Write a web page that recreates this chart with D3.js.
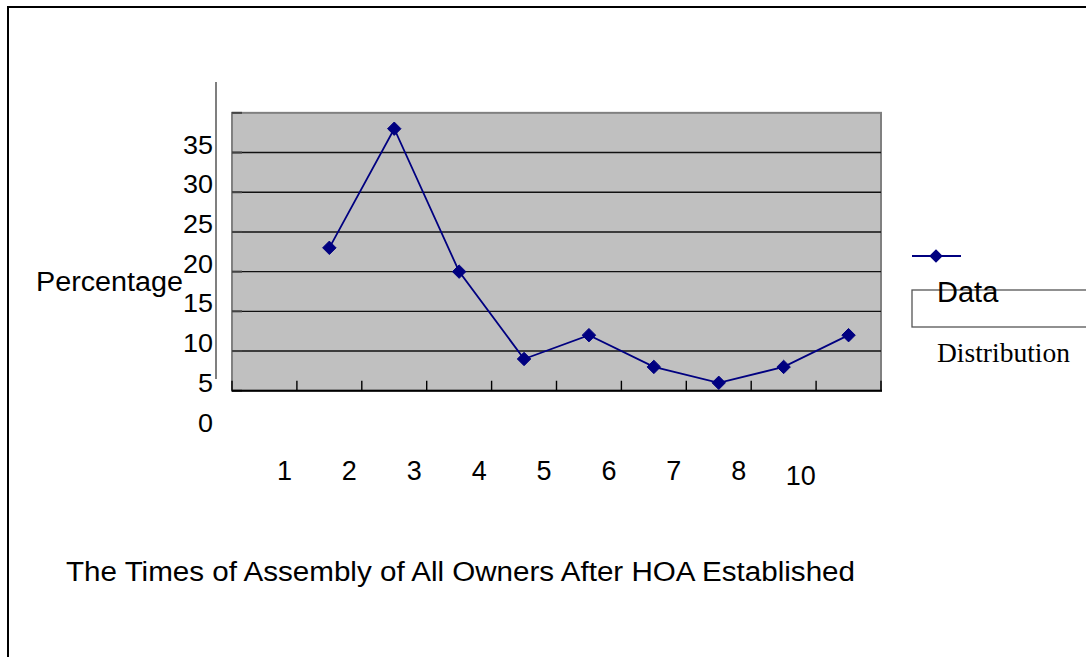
<!DOCTYPE html>
<html>
<head>
<meta charset="utf-8">
<script src="https://cdn.jsdelivr.net/npm/d3@7/dist/d3.min.js"></script>
<style>
  html, body { margin: 0; padding: 0; background: #fff; }
  svg { display: block; }
</style>
</head>
<body>
<svg id="chart" width="1086" height="657"></svg>
<script>
// ---- data ----
const categories = ["1", "2", "3", "4", "5", "6", "7", "8", "10", ""];
const values = [null, 22, 37, 19, 8, 11, 7, 5, 7, 11];
const yTicks = [0, 5, 10, 15, 20, 25, 30, 35];
const yAxisTitle = "Percentage";
const chartTitle = "The Times of Assembly of All Owners After HOA Established";
const legendLabels = ["Data", "Distribution"];

// ---- layout ----
const W = 1086, H = 657;
const sans = "'Liberation Sans', Arial, Helvetica, sans-serif";
const serif = "'Liberation Serif', 'Times New Roman', serif";
const navy = "#000080";
const gridShift = 4;      // gridlines sit 4 units above their labels in the original
const plotLeft = 232, plotRight = 881;

const svg = d3.select("#chart");

// outer frame (extends past the right and bottom edges)
svg.append("rect")
  .attr("x", 8).attr("y", 7).attr("width", W + 20).attr("height", H + 20)
  .attr("fill", "#fff").attr("stroke", "#000").attr("stroke-width", 2);

const x = d3.scaleBand().domain(d3.range(categories.length)).range([plotLeft, plotRight]).padding(0);
const y = d3.scaleLinear().domain([0, 35]).range([422.5, 144.6]);

const plotTop = y(d3.max(yTicks) + gridShift);
const plotBottom = y(0 + gridShift);

// plot area
svg.append("rect")
  .attr("x", plotLeft).attr("y", plotTop)
  .attr("width", plotRight - plotLeft).attr("height", plotBottom - plotTop)
  .attr("fill", "#c0c0c0").attr("stroke", "#808080").attr("stroke-width", 2);

// gridlines
svg.append("g").selectAll("line")
  .data(yTicks.slice(1, -1))
  .join("line")
  .attr("x1", plotLeft).attr("x2", plotRight)
  .attr("y1", d => y(d + gridShift)).attr("y2", d => y(d + gridShift))
  .attr("stroke", "#111").attr("stroke-width", 1.4);

// left inner tick marks
svg.append("g").selectAll("line")
  .data(yTicks)
  .join("line")
  .attr("x1", plotLeft).attr("x2", plotLeft + 10)
  .attr("y1", d => y(d + gridShift)).attr("y2", d => y(d + gridShift))
  .attr("stroke", "#444").attr("stroke-width", 2);

// bottom axis line
svg.append("line")
  .attr("x1", plotLeft).attr("x2", plotRight + 1)
  .attr("y1", plotBottom).attr("y2", plotBottom)
  .attr("stroke", "#000").attr("stroke-width", 2);

// bottom tick marks at band boundaries
svg.append("g").selectAll("line")
  .data(d3.range(categories.length + 1))
  .join("line")
  .attr("x1", i => plotLeft + i * x.step()).attr("x2", i => plotLeft + i * x.step())
  .attr("y1", plotBottom - 10).attr("y2", plotBottom)
  .attr("stroke", "#000").attr("stroke-width", 1.4);

// vertical line left of plot
svg.append("line")
  .attr("x1", 216).attr("x2", 216)
  .attr("y1", 82).attr("y2", 379)
  .attr("stroke", "#555").attr("stroke-width", 1.5);

// y axis labels
const yAxis = d3.axisLeft(y).tickValues(yTicks).tickSize(0).tickPadding(0).tickFormat(d3.format("d"));
const gy = svg.append("g").attr("transform", "translate(213,0)").call(yAxis);
gy.select(".domain").remove();
gy.selectAll("text")
  .attr("font-family", sans).attr("font-size", 25).attr("fill", "#000")
  .attr("dy", "0.34em")
  .attr("textLength", d => String(d).length * 15)
  .attr("lengthAdjust", "spacingAndGlyphs");

// x axis labels (offset to the right of band centres, as in the original)
svg.append("g").selectAll("text")
  .data(categories.map((c, i) => ({ c, i })).filter(d => d.c !== ""))
  .join("text")
  .attr("x", d => x(d.i) + x.bandwidth() / 2 + 20 - (d.c.length > 1 ? 3 : 0))
  .attr("y", d => d.c.length > 1 ? 485 : 479.5)
  .attr("text-anchor", "middle")
  .attr("font-family", sans).attr("font-size", 27).attr("fill", "#000")
  .text(d => d.c);

// series line
const pts = values.map((v, i) => ({ v, i })).filter(d => d.v !== null);
const line = d3.line().x(d => x(d.i) + x.bandwidth() / 2).y(d => y(d.v));
svg.append("path")
  .datum(pts)
  .attr("d", line)
  .attr("fill", "none").attr("stroke", navy).attr("stroke-width", 1.8);

const diamond = d3.symbol().type(d3.symbolDiamond2).size(115);
svg.append("g").selectAll("path")
  .data(pts)
  .join("path")
  .attr("transform", d => `translate(${x(d.i) + x.bandwidth() / 2},${y(d.v)})`)
  .attr("d", diamond)
  .attr("fill", navy).attr("stroke", navy).attr("stroke-width", 1);

// y axis title
svg.append("text")
  .attr("x", 36).attr("y", 291)
  .attr("font-family", sans).attr("font-size", 27).attr("fill", "#000")
  .attr("textLength", 147).attr("lengthAdjust", "spacingAndGlyphs")
  .text(yAxisTitle);

// chart title
svg.append("text")
  .attr("x", 66).attr("y", 581)
  .attr("font-family", sans).attr("font-size", 27).attr("fill", "#000")
  .attr("textLength", 789).attr("lengthAdjust", "spacingAndGlyphs")
  .text(chartTitle);

// legend
const lg = svg.append("g");
lg.append("line")
  .attr("x1", 912).attr("x2", 961).attr("y1", 256).attr("y2", 256)
  .attr("stroke", navy).attr("stroke-width", 1.8);
lg.append("path")
  .attr("transform", "translate(936,256)")
  .attr("d", diamond)
  .attr("fill", navy);
lg.append("rect")
  .attr("x", 912).attr("y", 290).attr("width", 200).attr("height", 37)
  .attr("fill", "none").attr("stroke", "#555").attr("stroke-width", 1.3);
lg.append("text")
  .attr("x", 937).attr("y", 302)
  .attr("font-family", sans).attr("font-size", 29).attr("fill", "#000")
  .text(legendLabels[0]);
lg.append("text")
  .attr("x", 937).attr("y", 361.5)
  .attr("font-family", serif).attr("font-size", 27.5).attr("fill", "#000")
  .text(legendLabels[1]);
</script>
</body>
</html>
